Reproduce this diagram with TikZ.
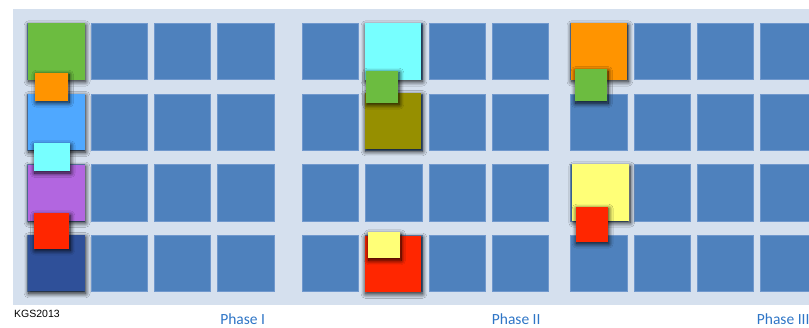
\documentclass[tikz,border=0pt]{standalone}
\usepackage{fontspec}
\setmainfont{Carlito}
\newfontfamily\arialfont{Liberation Sans}
\usetikzlibrary{shadows.blur}
\definecolor{bgc}{RGB}{213,224,238}
\definecolor{cellc}{RGB}{78,129,189}
\definecolor{celledge}{RGB}{112,152,205}
\definecolor{cgreen}{RGB}{108,188,64}
\definecolor{corange}{RGB}{255,148,0}
\definecolor{clblue}{RGB}{79,168,255}
\definecolor{ccyan}{RGB}{119,255,255}
\definecolor{cpurple}{RGB}{178,102,224}
\definecolor{cred}{RGB}{255,38,0}
\definecolor{cnavy}{RGB}{47,80,153}
\definecolor{colive}{RGB}{150,143,0}
\definecolor{cyellow}{RGB}{255,255,119}
\definecolor{phasec}{RGB}{46,117,198}
\tikzset{
  panel/.style={fill=bgc, anchor=north west, inner sep=0pt, outer sep=0pt, minimum width=796pt, minimum height=296pt},
  cell/.style={fill=cellc, draw=celledge, line width=0.5pt, anchor=north west, inner sep=0pt, outer sep=0pt, minimum width=56.3pt, minimum height=56.3pt},
  shade box/.style={blur shadow={shadow xshift=1pt, shadow yshift=-2pt, shadow blur radius=4.5pt, shadow blur steps=12, shadow opacity=90}},
  bigsq/.style={shade box, anchor=north west, inner sep=0pt, outer sep=0pt, minimum width=56.8pt, minimum height=56.3pt},
  smallsq/.style={shade box, anchor=north west, inner sep=0pt, outer sep=0pt},
  phase/.style={text=phasec, font=\fontsize{15.5}{18}\selectfont, inner sep=0pt},
}
\begin{document}
\begin{tikzpicture}[x=1pt,y=-1pt]
\useasboundingbox (0,0) rectangle (809,327);
\node[panel] (bg) at (13,9.3) {};
% grid of cells
\foreach \p/\xs in {1/27.7, 2/302.3, 3/570.7}{
  \foreach \c in {0,...,3}{
    \foreach \r in {0,...,3}{
      \node[cell] (g\p\c\r) at ({\xs+63.3*\c},{23.3+70.6*\r}) {};
    }
  }
}
% Phase I column
\node[bigsq, fill=cgreen]  (p1a) at (27.7,23.3) {};
\node[bigsq, fill=clblue]  (p1b) at (27.7,93.9) {};
\node[bigsq, fill=cpurple] (p1c) at (27.7,164.5) {};
\node[bigsq, fill=cnavy]   (p1d) at (27.7,235.1) {};
\node[smallsq, fill=corange, minimum width=32.7pt, minimum height=28pt] (p1s1) at (35.3,72.7) {};
\node[smallsq, fill=ccyan,   minimum width=36pt,   minimum height=27.7pt] (p1s2) at (33.7,143.3) {};
\node[smallsq, fill=cred,    minimum width=35.3pt, minimum height=35.3pt] (p1s3) at (34,213.3) {};
% Phase II column
\node[bigsq, fill=ccyan]  (p2a) at (364.6,23.3) {};
\node[bigsq, fill=colive] (p2b) at (364.6,93.0) {};
\node[bigsq, fill=cred]   (p2d) at (364.6,235.6) {};
\node[smallsq, fill=cgreen,  minimum width=32.3pt, minimum height=32pt] (p2s1) at (366,70.7) {};
\node[smallsq, fill=cyellow, minimum width=32.3pt, minimum height=26pt] (p2s2) at (367.7,232.3) {};
% Phase III column
\node[bigsq, fill=corange] (p3a) at (570.5,23.3) {};
\node[bigsq, fill=cyellow] (p3c) at (572.3,164.4) {};
\node[smallsq, fill=cgreen, minimum width=32.3pt, minimum height=32.3pt] (p3s1) at (574.7,69) {};
\node[smallsq, fill=cred,   minimum width=32pt,   minimum height=35pt]   (p3s2) at (575.7,206.7) {};
% labels
\node[anchor=base west, inner sep=0pt, font=\arialfont\fontsize{10.5}{12}\selectfont] (kgs) at (14,317) {KGS2013};
\node[phase, anchor=base] (ph1) at (242.7,324) {Phase I};
\node[phase, anchor=base] (ph2) at (516.2,324) {Phase II};
\node[phase, anchor=base west] (ph3) at (756.7,324) {Phase III};
\end{tikzpicture}
\end{document}
